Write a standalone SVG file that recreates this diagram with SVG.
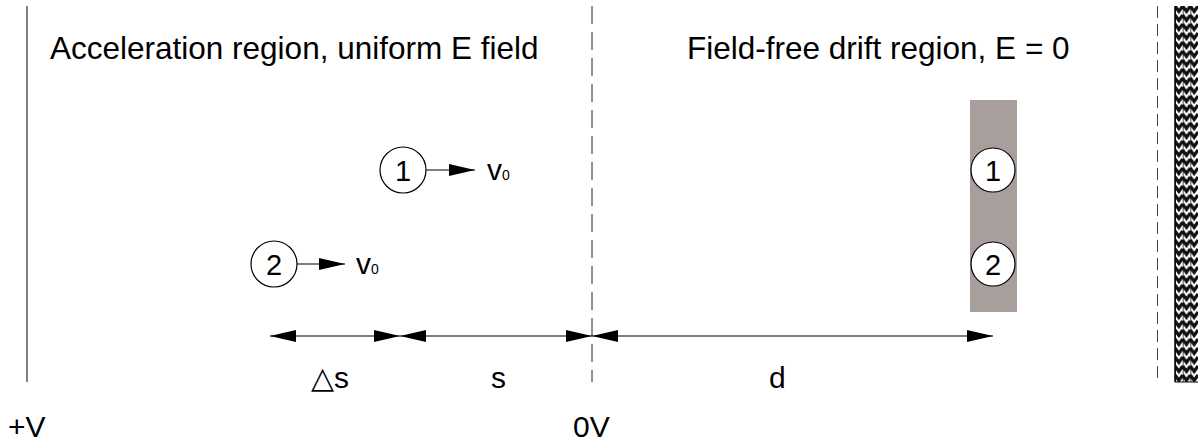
<svg xmlns="http://www.w3.org/2000/svg" width="1198" height="442" viewBox="0 0 1198 442">
<style>
text{font-family:"Liberation Sans",Arial,sans-serif;fill:#000}
.t{font-size:31.5px}
.b{font-size:30px}
.n{font-size:29px}
.c{fill:#fff;stroke:#000;stroke-width:1.2}
.ln{stroke:#000;stroke-width:1.2;fill:none}
</style>
<defs>
<marker id="ah" viewBox="0 0 26 12" refX="26" refY="6" markerWidth="26" markerHeight="12" markerUnits="userSpaceOnUse" orient="auto-start-reverse">
<path d="M0,0 L26,6 L0,12 Z" fill="#000"/>
</marker>
<pattern id="zig" width="7.67" height="9" patternUnits="userSpaceOnUse" x="1175" y="6">
<rect width="7.67" height="9" fill="#fff"/>
<path d="M0,0 L3.83,5.5 L7.67,0 M0,9 L3.83,14.5 L7.67,9 M0,-9 L3.83,-3.5 L7.67,-9" stroke="#111" stroke-width="3.2" fill="none"/>
<line x1="0" y1="0" x2="0" y2="9" stroke="#111" stroke-width="1.5"/>
</pattern>
</defs>
<rect width="1198" height="442" fill="#fff"/>
<g id="plates">
<line x1="27" y1="6" x2="27" y2="382" stroke="#000" stroke-width="1"/>
<line x1="592" y1="6" x2="592" y2="382" stroke="#222" stroke-width="1" stroke-dasharray="18 8"/>
<line x1="1157.5" y1="6" x2="1157.5" y2="380" stroke="#444" stroke-width="1" stroke-dasharray="12 6"/>
<rect x="1175" y="6" width="23" height="376" fill="url(#zig)"/>
<line x1="1175" y1="382" x2="1198" y2="382" stroke="#000" stroke-width="1"/>
<line x1="1175" y1="6" x2="1175" y2="382" stroke="#000" stroke-width="1.5"/>
</g>
<g id="labels">
<text class="t" x="50" y="59">Acceleration region, uniform E field</text>
<text class="t" x="687" y="59">Field-free drift region, E = 0</text>
<text class="b" x="8" y="437">+V</text>
<text class="b" x="573" y="437">0V</text>
<text class="b" x="311" y="388">△s</text>
<text class="b" x="491" y="388">s</text>
<text class="b" x="769" y="388">d</text>
</g>
<g id="detector">
<rect x="970" y="100" width="47" height="212" fill="#a89e9c"/>
</g>
<g id="ion1a"><circle class="c" cx="403" cy="170" r="23"/><text class="n" x="403" y="180.5" text-anchor="middle">1</text></g>
<g id="ion2a"><circle class="c" cx="274" cy="264" r="23"/><text class="n" x="274" y="274.5" text-anchor="middle">2</text></g>
<g id="ion1b"><circle class="c" cx="993" cy="170" r="22"/><text class="n" x="993" y="180.5" text-anchor="middle">1</text></g>
<g id="ion2b"><circle class="c" cx="993" cy="264" r="22"/><text class="n" x="993" y="274.5" text-anchor="middle">2</text></g>
<g id="v1"><text x="487" y="180" font-size="30">v<tspan font-size="14">0</tspan></text></g>
<g id="v2"><text x="356" y="274" font-size="30">v<tspan font-size="14">0</tspan></text></g>
<g id="connectors">
<line class="ln" x1="426" y1="170" x2="475" y2="170" marker-end="url(#ah)"/>
<line class="ln" x1="297" y1="264" x2="345" y2="264" marker-end="url(#ah)"/>
<line class="ln" x1="270" y1="336" x2="400" y2="336" marker-start="url(#ah)" marker-end="url(#ah)"/>
<line class="ln" x1="400" y1="336" x2="592" y2="336" marker-start="url(#ah)" marker-end="url(#ah)"/>
<line class="ln" x1="592" y1="336" x2="993" y2="336" marker-start="url(#ah)" marker-end="url(#ah)"/>
</g>
</svg>
